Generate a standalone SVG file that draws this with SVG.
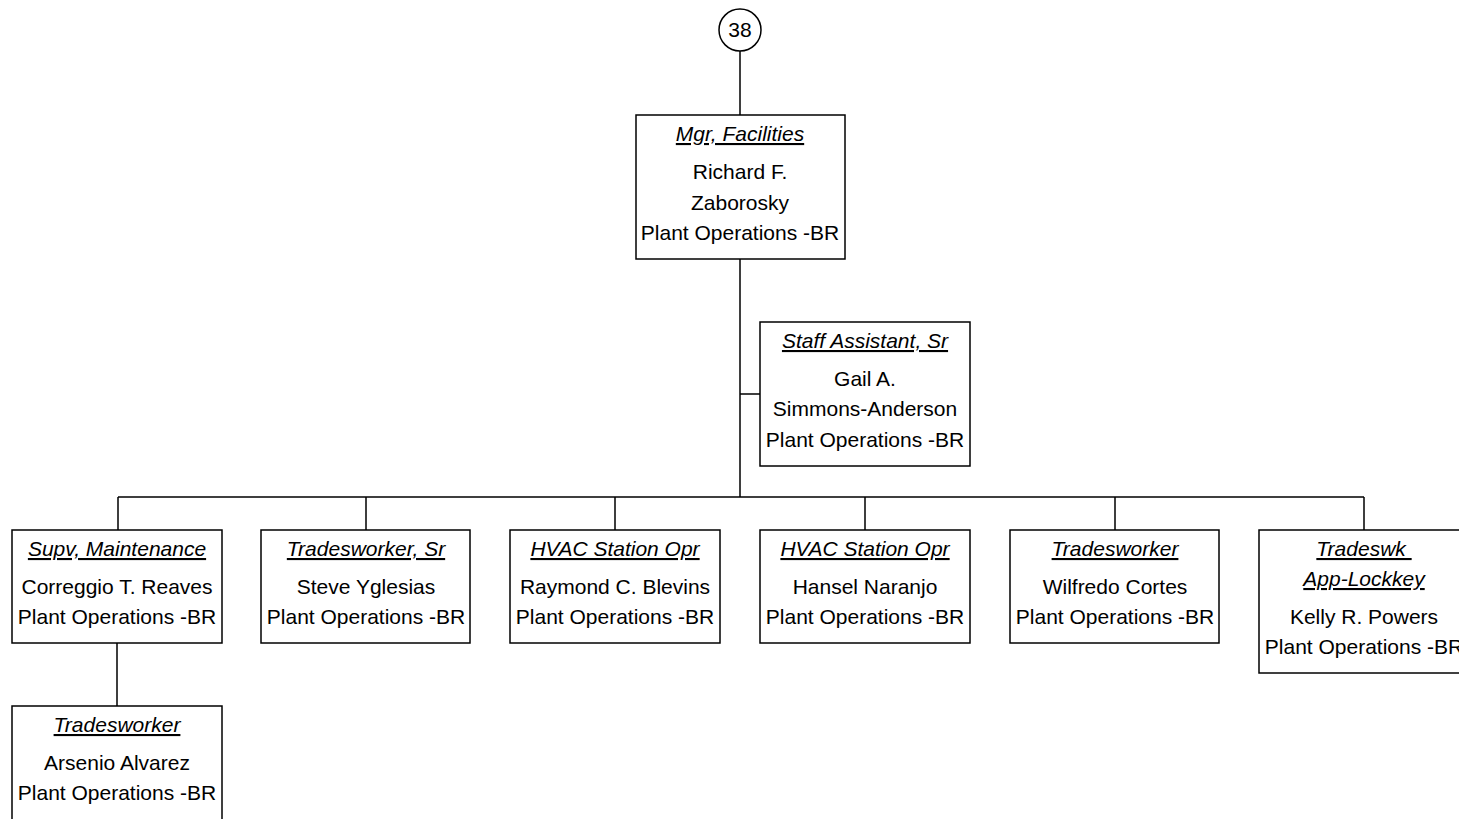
<svg xmlns="http://www.w3.org/2000/svg" width="1459" height="819" viewBox="0 0 1459 819">
<style>
.box{fill:#fff;stroke:#000;stroke-width:1.5}
.ln{stroke:#000;stroke-width:1.5;fill:none}
text{font-family:"Liberation Sans",Arial,sans-serif;font-size:21px;text-anchor:middle;fill:#000}
.t{font-style:italic;text-decoration:underline}
</style>
<rect width="1459" height="819" fill="#fff"/>
<g id="connectors">
<path class="ln" d="M740 51V115M740 259V497M740 394H760M118 497H1364M118 497V530M366 497V530M615 497V530M865 497V530M1115 497V530M1364 497V530M117 643V706"/>
</g>
<g id="n38">
<circle cx="740" cy="30" r="21" class="box"/>
<text x="740" y="37">38</text>
</g>
<g id="mgr">
<rect class="box" x="636" y="115" width="209" height="144"/>
<text class="t" x="740" y="141">Mgr, Facilities</text>
<text x="740" y="179">Richard F.</text>
<text x="740" y="210">Zaborosky</text>
<text x="740" y="240">Plant Operations -BR</text>
</g>
<g id="staff">
<rect class="box" x="760" y="322" width="210" height="144"/>
<text class="t" x="865" y="348">Staff Assistant, Sr</text>
<text x="865" y="386">Gail A.</text>
<text x="865" y="416">Simmons-Anderson</text>
<text x="865" y="447">Plant Operations -BR</text>
</g>
<g id="supv">
<rect class="box" x="12" y="530" width="210" height="113"/>
<text class="t" x="117" y="556">Supv, Maintenance</text>
<text x="117" y="594">Correggio T. Reaves</text>
<text x="117" y="624">Plant Operations -BR</text>
</g>
<g id="trsr">
<rect class="box" x="261" y="530" width="209" height="113"/>
<text class="t" x="366" y="556">Tradesworker, Sr</text>
<text x="366" y="594">Steve Yglesias</text>
<text x="366" y="624">Plant Operations -BR</text>
</g>
<g id="hvac1">
<rect class="box" x="510" y="530" width="210" height="113"/>
<text class="t" x="615" y="556">HVAC Station Opr</text>
<text x="615" y="594">Raymond C. Blevins</text>
<text x="615" y="624">Plant Operations -BR</text>
</g>
<g id="hvac2">
<rect class="box" x="760" y="530" width="210" height="113"/>
<text class="t" x="865" y="556">HVAC Station Opr</text>
<text x="865" y="594">Hansel Naranjo</text>
<text x="865" y="624">Plant Operations -BR</text>
</g>
<g id="trw">
<rect class="box" x="1010" y="530" width="209" height="113"/>
<text class="t" x="1115" y="556">Tradesworker</text>
<text x="1115" y="594">Wilfredo Cortes</text>
<text x="1115" y="624">Plant Operations -BR</text>
</g>
<g id="lock">
<rect class="box" x="1259" y="530" width="210" height="143"/>
<text class="t" x="1364" y="556" xml:space="preserve">Tradeswk </text>
<text class="t" x="1364" y="586">App-Lockkey</text>
<text x="1364" y="624">Kelly R. Powers</text>
<text x="1364" y="654">Plant Operations -BR</text>
</g>
<g id="arsenio">
<rect class="box" x="12" y="706" width="210" height="130"/>
<text class="t" x="117" y="732">Tradesworker</text>
<text x="117" y="770">Arsenio Alvarez</text>
<text x="117" y="800">Plant Operations -BR</text>
</g>
</svg>
